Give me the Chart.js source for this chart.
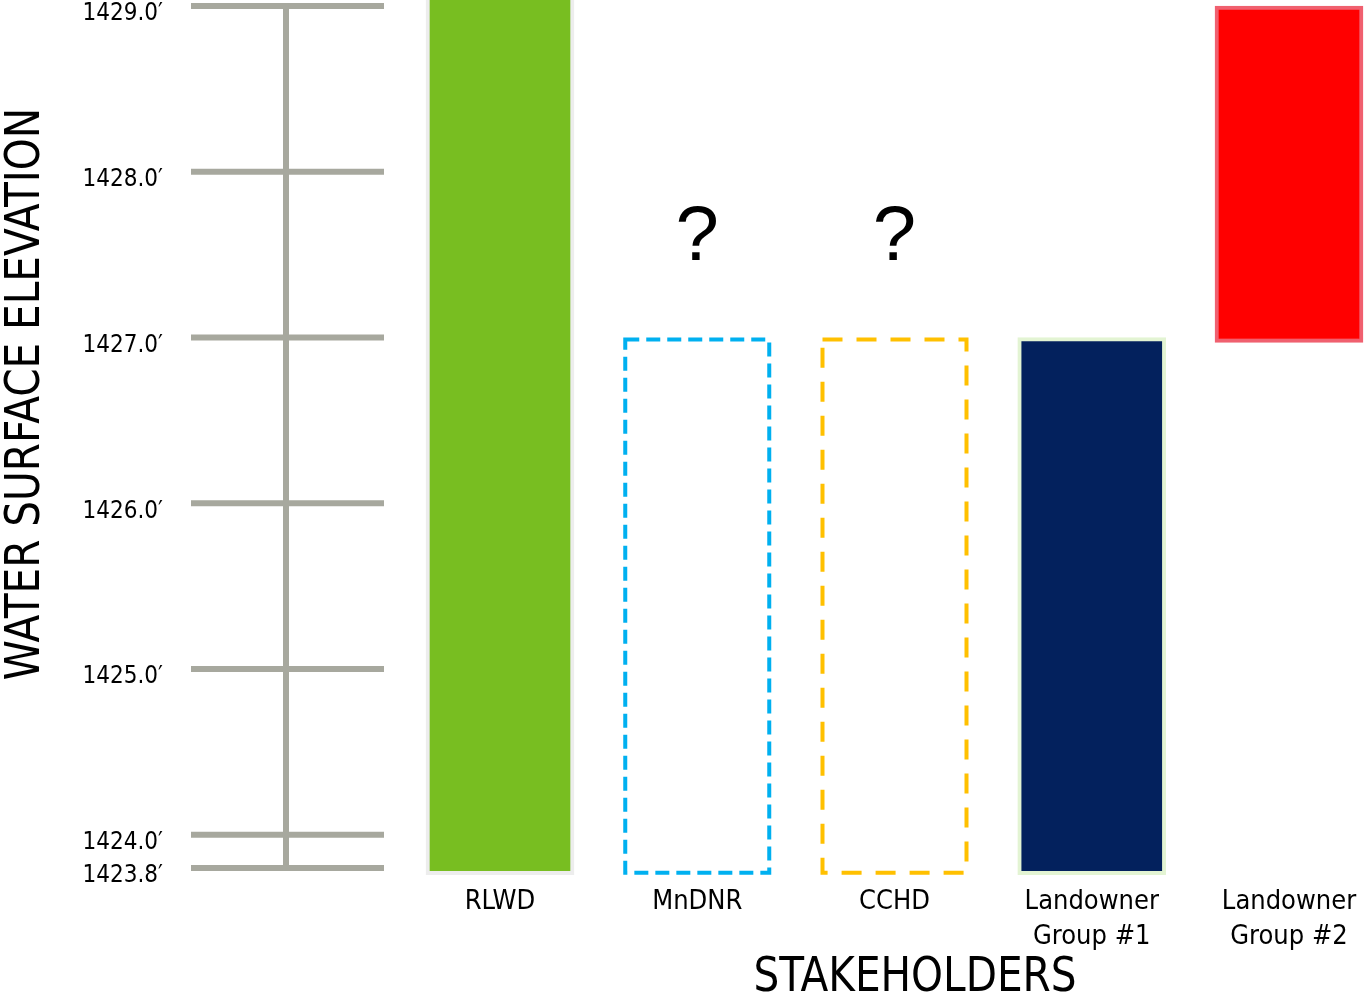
<!DOCTYPE html>
<html>
<head>
<meta charset="utf-8">
<script src="https://cdn.jsdelivr.net/npm/chart.js@4/dist/chart.umd.min.js"></script>
<style>
  html, body { margin: 0; padding: 0; background: #fff; }
  #wrap { width: 1366px; height: 1001px; position: relative; }
</style>
</head>
<body>
<div id="wrap"><canvas id="elevChart"></canvas></div>
<script>
// stakeholders and the water level range each one wants
var stakeholders = ['RLWD', 'MnDNR', 'CCHD', ['Landowner', 'Group #1'], ['Landowner', 'Group #2']];
var lowElev  = [1423.76, 1423.76, 1423.76, 1423.76, 1426.97];
var highElev = [1429.1, 1427.0, 1427.0, 1427.0, 1429.0];
var unknown  = [false, true, true, false, false];   // '?' over the range
var elevTicks = [1423.8, 1424.0, 1425.0, 1426.0, 1427.0, 1428.0, 1429.0];

var fills   = ['#78be21', 'rgba(0,0,0,0)', 'rgba(0,0,0,0)', '#03215d', '#ff0000'];
var borders = ['#ededed', 'rgba(0,0,0,0)', 'rgba(0,0,0,0)', '#e3f4d3', '#f0606f'];
var dashes  = [null, { color: '#00b0f0', dash: [14, 7] }, { color: '#ffc000', dash: [20, 14] }, null, null];

var FONT = '"DejaVu Sans Condensed", "Liberation Sans", sans-serif';

var ranges = lowElev.map(function (lo, i) { return [lo, highElev[i]]; });

// ruler with the elevation marks, on the left
var rulerPlugin = {
    id: 'ruler',
    beforeDatasetsDraw: function (chart) {
        var y = chart.scales.y;
        var c = chart.ctx;
        c.save();
        c.strokeStyle = '#a7a89e';
        c.lineWidth = 6;
        y.ticks.forEach(function (t) {
            var py = y.getPixelForValue(t.value);
            c.beginPath();
            c.moveTo(191, py);
            c.lineTo(384, py);
            c.stroke();
        });
        c.beginPath();
        c.moveTo(286, y.getPixelForValue(elevTicks[0]));
        c.lineTo(286, y.getPixelForValue(elevTicks[elevTicks.length - 1]));
        c.stroke();
        c.restore();
    }
};

// dashed outlines (bar element has no borderDash), question marks, titles
var extrasPlugin = {
    id: 'extras',
    afterDatasetsDraw: function (chart) {
        var c = chart.ctx;
        var meta = chart.getDatasetMeta(0);
        var x = chart.scales.x, y = chart.scales.y;
        c.save();
        meta.data.forEach(function (bar, i) {
            var d = dashes[i];
            if (d) {
                var p = bar.getProps(['x', 'y', 'base', 'width'], true);
                var lw = 4;
                var left = p.x - p.width / 2 + lw / 2;
                var top = Math.min(p.y, p.base) + lw / 2;
                var h = Math.abs(p.base - p.y) - lw;
                c.strokeStyle = d.color;
                c.lineWidth = lw;
                c.setLineDash(d.dash);
                c.strokeRect(left, top, p.width - lw, h);
            }
            if (unknown[i]) {
                c.setLineDash([]);
                c.fillStyle = '#000';
                c.font = '78px "Liberation Sans", Arial, sans-serif';
                c.textAlign = 'center';
                c.textBaseline = 'middle';
                c.fillText('?', x.getPixelForValue(i), y.getPixelForValue(1427.6));
            }
        });
        c.setLineDash([]);
        c.fillStyle = '#000';
        c.font = '48px ' + FONT;
        c.textAlign = 'center';
        c.textBaseline = 'middle';
        c.save();
        c.translate(915, 979);
        c.scale(0.94, 1);
        c.fillText('STAKEHOLDERS', 0, 0);
        c.restore();
        c.translate(27, 394);
        c.rotate(-Math.PI / 2);
        c.scale(0.94, 1);
        c.fillText('WATER SURFACE ELEVATION', 0, 0);
        c.restore();
    }
};

var ctx = document.getElementById('elevChart');
var elevChart = new Chart(ctx, {
    type: 'bar',
    data: {
        labels: stakeholders,
        datasets: [{
            label: 'Water surface elevation',
            data: ranges,
            backgroundColor: fills,
            borderColor: borders,
            borderWidth: 4,
            borderSkipped: false,
            barThickness: 148,
            clip: false
        }]
    },
    options: {
        responsive: true,
        maintainAspectRatio: false,
        animation: false,
        layout: { padding: { top: 6, right: 77, left: 0, bottom: 0 } },
        plugins: {
            legend: { display: false },
            tooltip: { enabled: false }
        },
        scales: {
            x: {
                offset: false,
                grid: { display: false, drawTicks: false },
                border: { display: false },
                ticks: {
                    color: '#000',
                    padding: 16,
                    maxRotation: 0,
                    autoSkip: false,
                    font: { family: FONT, size: 27, lineHeight: 1.3 }
                },
                afterFit: function (s) {
                    s.height = 133;
                    s.paddingLeft = 0;
                    s.paddingRight = 0;
                }
            },
            y: {
                min: 1423.8,
                max: 1429.0,
                grid: { display: false, drawTicks: false },
                border: { display: false },
                afterBuildTicks: function (s) {
                    s.ticks = elevTicks.map(function (v) { return { value: v }; });
                },
                ticks: {
                    color: '#000',
                    padding: 337,
                    labelOffset: 8,
                    font: { family: FONT, size: 24 },
                    callback: function (value) {
                        return Number(value).toFixed(1) + '\u2032';
                    }
                },
                afterFit: function (s) {
                    s.width = 500;
                    s.paddingTop = 0;
                    s.paddingBottom = 0;
                }
            }
        }
    },
    plugins: [rulerPlugin, extrasPlugin]
});
</script>
</body>
</html>
